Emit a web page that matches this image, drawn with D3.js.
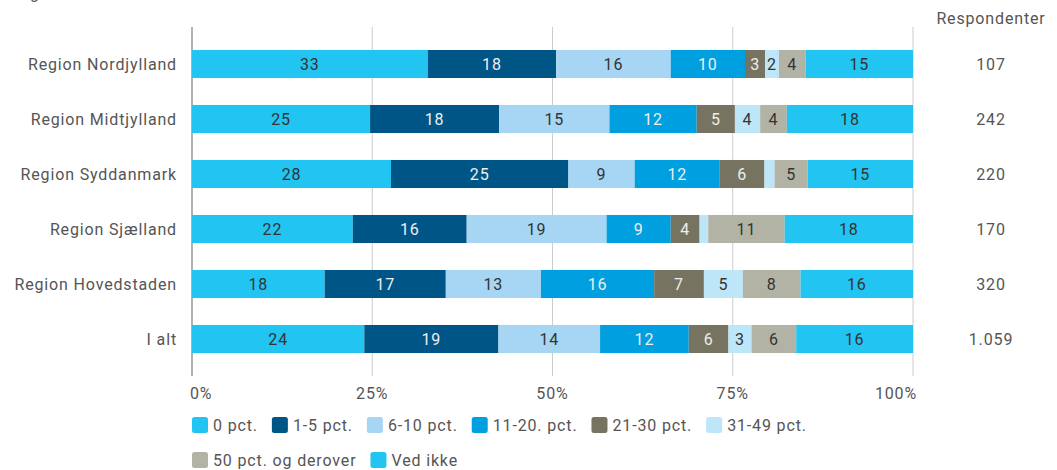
<!DOCTYPE html>
<html>
<head>
<meta charset="utf-8">
<script src="https://cdn.jsdelivr.net/npm/d3@7"></script>
<style>
  body { margin: 0; background: #fff; }
  text { font-family: Roboto, "Noto Sans", sans-serif; }
  .lbl { letter-spacing: 0.85px; }
</style>
</head>
<body>
<div class="chart"></div>
<script>
var svgWidth = 1057;
var svgHeight = 470;

// data
var regions = ["Region Nordjylland", "Region Midtjylland", "Region Syddanmark",
  "Region Sjælland", "Region Hovedstaden", "I alt"];
var categories = ["0 pct.", "1-5 pct.", "6-10 pct.", "11-20. pct.", "21-30 pct.",
  "31-49 pct.", "50 pct. og derover", "Ved ikke"];
var nordjylland = [32.7, 17.8, 15.9, 10.3, 2.8, 1.9, 3.7, 14.9];
var midtjylland = [24.7, 17.9, 15.3, 12.1, 5.3, 3.5, 3.7, 17.5];
var syddanmark = [27.6, 24.6, 9.2, 11.8, 6.2, 1.4, 4.6, 14.6];
var sjaelland = [22.3, 15.8, 19.4, 8.9, 4.0, 1.2, 10.6, 17.8];
var hovedstaden = [18.4, 16.8, 13.2, 15.7, 6.9, 5.4, 8.0, 15.6];
var iAlt = [23.9, 18.6, 14.1, 12.3, 5.5, 3.2, 6.2, 16.2];
var respondenter = ["107", "242", "220", "170", "320", "1.059"];
var tickValues = [0, 25, 50, 75, 100];

var colors = ["#22c4f2", "#005587", "#a7d5f4", "#009fe0", "#767461", "#bde6f9", "#b3b3a5", "#22c4f2"];
var darkSeg = [false, true, false, true, true, false, false, false];

var rows = [nordjylland, midtjylland, syddanmark, sjaelland, hovedstaden, iAlt];
var data = regions.map(function(r, i) {
  var o = { region: r };
  categories.forEach(function(c, j) { o[c] = rows[i][j]; });
  return o;
});

var svg = d3.select(".chart").append("svg")
  .attr("width", svgWidth)
  .attr("height", svgHeight);

var x = d3.scaleLinear().domain([0, 100]).range([192, 913]);
var y = d3.scaleBand().domain(regions).range([36.5, 366.5])
  .paddingInner(0.49).paddingOuter(0.245);

// title, cut off at the top like in the original
svg.append("text")
  .attr("class", "lbl")
  .attr("x", 10).attr("y", -1)
  .attr("font-size", 16).attr("fill", "#555")
  .text("Regionsniveau");

// gridlines
svg.append("g").selectAll("line")
  .data(tickValues)
  .enter().append("line")
  .attr("x1", d => x(d)).attr("x2", d => x(d))
  .attr("y1", 27).attr("y2", 376)
  .attr("stroke", d => d === 0 ? "#999" : "#ccc")
  .attr("stroke-width", d => d === 0 ? 1.5 : 1);

// tick labels
svg.append("g").selectAll("text")
  .data(tickValues)
  .enter().append("text")
  .attr("class", "lbl")
  .attr("x", d => d === 0 ? x(d) - 2 : d === 100 ? x(d) + 4 : x(d))
  .attr("y", 399)
  .attr("text-anchor", d => d === 0 ? "start" : d === 100 ? "end" : "middle")
  .attr("font-size", 16).attr("fill", "#555")
  .text(d => d + "%");

// bars
var series = d3.stack().keys(categories)(data);

var groups = svg.append("g").selectAll("g")
  .data(series)
  .enter().append("g")
  .attr("fill", (d, i) => colors[i]);

groups.selectAll("rect")
  .data(d => d)
  .enter().append("rect")
  .attr("x", d => x(d[0]))
  .attr("y", d => y(d.data.region))
  .attr("width", d => x(d[1]) - x(d[0]))
  .attr("height", y.bandwidth());

groups.each(function(s, i) {
  d3.select(this).selectAll("text")
    .data(s.filter(d => d[1] - d[0] >= 1.5))
    .enter().append("text")
    .attr("class", "lbl")
    .attr("x", d => (x(d[0]) + x(d[1])) / 2)
    .attr("y", d => y(d.data.region) + y.bandwidth() / 2)
    .attr("dy", "0.36em")
    .attr("text-anchor", "middle")
    .attr("font-size", 16)
    .attr("fill", darkSeg[i] ? "#eeeeee" : "#333")
    .text(d => Math.round(d[1] - d[0]));
});

// region labels
svg.append("g").selectAll("text")
  .data(regions)
  .enter().append("text")
  .attr("class", "lbl")
  .attr("x", 177)
  .attr("y", d => y(d) + y.bandwidth() / 2)
  .attr("dy", "0.36em")
  .attr("text-anchor", "end")
  .attr("font-size", 16).attr("fill", "#555")
  .text(d => d);

// respondenter column
svg.append("text")
  .attr("class", "lbl")
  .attr("x", 991).attr("y", 24)
  .attr("text-anchor", "middle")
  .attr("font-size", 16).attr("fill", "#555")
  .text("Respondenter");

svg.append("g").selectAll("text")
  .data(regions)
  .enter().append("text")
  .attr("class", "lbl")
  .attr("x", 991)
  .attr("y", d => y(d) + y.bandwidth() / 2)
  .attr("dy", "0.36em")
  .attr("text-anchor", "middle")
  .attr("font-size", 16).attr("fill", "#555")
  .text((d, i) => respondenter[i]);

// legend
var legend = svg.append("g");
var lx = 192, ly = 425, maxX = 850;
categories.forEach(function(c, i) {
  var item = legend.append("g");
  item.append("rect")
    .attr("x", 0).attr("y", -8)
    .attr("width", 16).attr("height", 16)
    .attr("rx", 2.5)
    .attr("fill", colors[i]);
  var t = item.append("text")
    .attr("class", "lbl")
    .attr("x", 21).attr("dy", "0.36em")
    .attr("font-size", 16).attr("fill", "#555")
    .text(c);
  var w = 21 + t.node().getComputedTextLength() + 14;
  if (lx + w > maxX) { lx = 192; ly += 35; }
  item.attr("transform", `translate(${lx}, ${ly})`);
  lx += w;
});
</script>
</body>
</html>
